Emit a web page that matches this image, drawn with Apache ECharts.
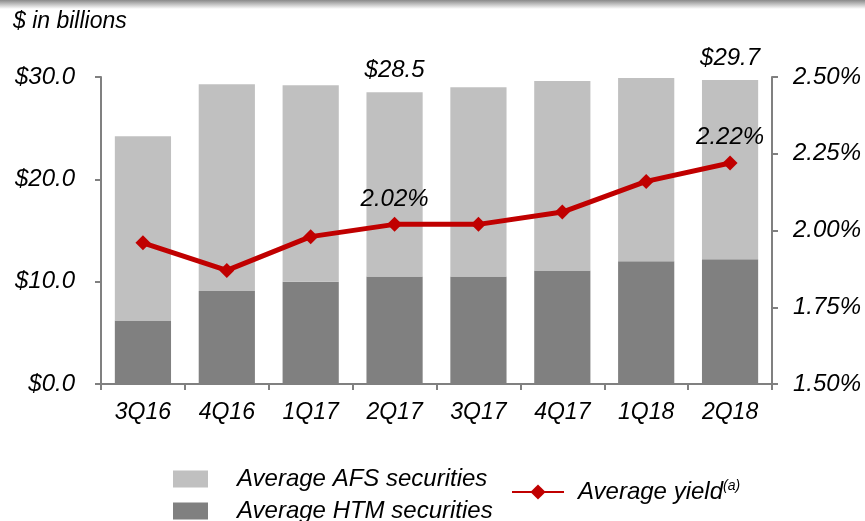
<!DOCTYPE html>
<html>
<head>
<meta charset="utf-8">
<script src="https://cdn.jsdelivr.net/npm/echarts@6/dist/echarts.min.js"></script>
<style>
  html, body { margin: 0; padding: 0; background: #fff; }
  #chart { width: 865px; height: 521px; }
</style>
</head>
<body>
<div id="chart"></div>
<script>
// quarters on the x axis
const quarters = ['3Q16', '4Q16', '1Q17', '2Q17', '3Q17', '4Q17', '1Q18', '2Q18'];
// average HTM securities ($B)
const htm = [6.2, 9.1, 10.0, 10.5, 10.5, 11.1, 12.0, 12.2];
// average AFS securities ($B), stacked on top of HTM
const afs = [18.0, 20.2, 19.2, 18.0, 18.5, 18.5, 17.9, 17.5];
// average yield (%)
const yieldPct = [1.96, 1.87, 1.98, 2.02, 2.02, 2.06, 2.16, 2.22];
// which points carry labels
const labelled = [3, 7];

const font = 'Liberation Sans, Arial, sans-serif';
const chart = echarts.init(document.getElementById('chart'));

// one legend box per entry so each can sit where the original puts it
const legendText = { fontSize: 24, fontStyle: 'italic', color: '#000', fontFamily: font };
function barLegend(name, top) {
	return {
		data: [{ name: name, icon: 'rect' }],
		left: 168,
		top: top,
		itemWidth: 35,
		itemHeight: 17,
		textStyle: Object.assign({}, legendText, { padding: [0, 0, 0, 24] }),
	};
}

const option = {
	animation: false,
	backgroundColor: '#fff',
	textStyle: { fontFamily: font, fontStyle: 'italic', color: '#000' },
	graphic: [
		{
			type: 'rect',
			left: 0,
			top: 0,
			shape: { width: 865, height: 9 },
			style: {
				fill: new echarts.graphic.LinearGradient(0, 0, 0, 1, [
					{ offset: 0, color: '#8a8a8a' },
					{ offset: 1, color: '#ffffff' },
				]),
			},
		},
		{
			type: 'text',
			left: 13,
			top: 10,
			style: { text: '$ in billions', font: 'italic 23px ' + font, fill: '#000' },
		},
	],
	grid: { left: 101, right: 93, top: 77, bottom: 137 },
	legend: [
		barLegend('Average AFS securities', 462),
		barLegend('Average HTM securities', 494),
		{
			data: ['Average yield'],
			left: 506,
			top: 474,
			itemWidth: 52,
			itemHeight: 19,
			textStyle: Object.assign({}, legendText, {
				padding: [0, 0, 0, 9],
				rich: {
					sup: { fontSize: 14, fontStyle: 'italic', fontFamily: font, verticalAlign: 'top', padding: [0, 0, 12, 0] },
				},
			}),
			formatter: (n) => n + '{sup|(a)}',
		},
	],
	xAxis: {
		type: 'category',
		data: quarters,
		axisLine: { lineStyle: { color: '#808080', width: 2 } },
		axisTick: { show: true, length: 6, lineStyle: { color: '#808080', width: 2 } },
		axisLabel: { fontSize: 23, fontStyle: 'italic', color: '#000', margin: 17 },
	},
	yAxis: [
		{
			type: 'value',
			min: 0,
			max: 30,
			interval: 10,
			splitLine: { show: false },
			axisLine: { show: true, lineStyle: { color: '#808080', width: 2 } },
			axisTick: { show: true, length: 6, lineStyle: { color: '#808080', width: 2 } },
			axisLabel: {
				fontSize: 24,
				fontStyle: 'italic',
				color: '#000',
				margin: 26,
				formatter: (v) => '$' + v.toFixed(1),
			},
		},
		{
			type: 'value',
			min: 1.5,
			max: 2.5,
			interval: 0.25,
			splitLine: { show: false },
			axisLine: { show: true, lineStyle: { color: '#808080', width: 2 } },
			axisTick: { show: true, length: 6, lineStyle: { color: '#808080', width: 2 } },
			axisLabel: {
				fontSize: 24,
				fontStyle: 'italic',
				color: '#000',
				margin: 21,
				formatter: (v) => v.toFixed(2) + '%',
			},
		},
	],
	series: [
		{
			name: 'Average HTM securities',
			type: 'bar',
			stack: 'sec',
			data: htm,
			barWidth: '67%',
			itemStyle: { color: '#808080' },
		},
		{
			name: 'Average AFS securities',
			type: 'bar',
			stack: 'sec',
			data: afs,
			itemStyle: { color: '#c0c0c0' },
			label: {
				show: true,
				position: 'top',
				distance: 10,
				fontSize: 24,
				fontStyle: 'italic',
				color: '#000',
				formatter: (p) =>
					labelled.includes(p.dataIndex) ? '$' + (afs[p.dataIndex] + htm[p.dataIndex]).toFixed(1) : '',
			},
		},
		{
			name: 'Average yield',
			type: 'line',
			yAxisIndex: 1,
			data: yieldPct,
			symbol: 'diamond',
			symbolSize: 15,
			lineStyle: { color: '#c00000', width: 5 },
			itemStyle: { color: '#c00000' },
			label: {
				show: true,
				position: 'top',
				distance: 6,
				fontSize: 24,
				fontStyle: 'italic',
				color: '#000',
				formatter: (p) => (labelled.includes(p.dataIndex) ? p.value.toFixed(2) + '%' : ''),
			},
			z: 5,
		},
	],
};

chart.setOption(option);
</script>
</body>
</html>
